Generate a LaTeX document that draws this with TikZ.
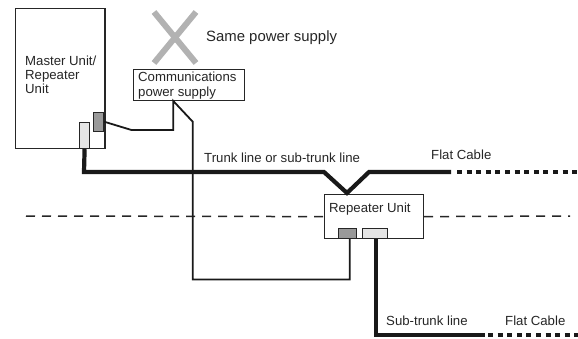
\documentclass[tikz,border=0pt]{standalone}
\usepackage{fontspec}
\setmainfont{Liberation Sans}
\tikzset{
  unitbox/.style={draw=black!85,line width=1.2pt,fill=white,inner sep=0pt,anchor=north west},
  label/.style={inner sep=0pt,anchor=west,text=black!85,font=\fontsize{13.2}{14.2}\selectfont,align=left},
  thin wire/.style={line width=1.8pt,black!90,line join=miter},
  thick wire/.style={line width=4.2pt,black!90,line join=miter},
  flat dots/.style={line width=4.2pt,black!90,dash pattern=on 5pt off 4.6pt},
  divider/.style={line width=1.5pt,black!85,dash pattern=on 9pt off 7pt},
  port dark/.style={draw=black!85,line width=1.2pt,fill=black!40,inner sep=0pt,anchor=north west},
  port light/.style={draw=black!85,line width=1.2pt,fill=black!10,inner sep=0pt,anchor=north west}
}
\begin{document}
\begin{tikzpicture}[x=1pt,y=-1pt]
\useasboundingbox (0,0) rectangle (578,338);
% divider
\coordinate (dl) at (26,216);
\coordinate (dr) at (570,216);
% units
\node[unitbox,minimum width=89.5pt,minimum height=140pt] (master) at (14.8,8) {};
\node[label] (masterlabel) at (25,74.5) {Master Unit/\\Repeater\\Unit};
\node[unitbox,minimum width=111pt,minimum height=31pt] (psu) at (133,69) {};
\node[label] (psulabel) at (138,85.5) {Communications\\power supply};
\node[unitbox,minimum width=99pt,minimum height=44pt] (rep) at (324,194) {};
\node[label] (replabel) at (329,209.5) {Repeater Unit};
% ports
\node[port light,minimum width=10pt,minimum height=26pt] (mlight) at (79,122) {};
\node[port dark,minimum width=10pt,minimum height=19pt] (mdark) at (93,112) {};
\node[port dark,minimum width=18pt,minimum height=10pt] (rdark) at (338,228) {};
\node[port light,minimum width=25pt,minimum height=10pt] (rlight) at (362,228) {};
% divider
\draw[divider] (dl) -- (rep.west);
\draw[divider] (rep.east) -- (dr);
% cross
\coordinate (xa) at (154,12);
\coordinate (xb) at (196,63);
\coordinate (xc) at (196,12);
\coordinate (xd) at (154,63);
\draw[line width=6pt,black!30] (xa) -- (xb);
\draw[line width=6pt,black!30] (xc) -- (xd);
% wires
\coordinate (w1) at (131.5,130);
\coordinate (w2) at (173.3,130);
\coordinate (w3) at (173.3,101);
\coordinate (w4) at (192.7,121.7);
\coordinate (w5) at (192.7,279.5);
\coordinate (w6) at (349.7,279.5);
\draw[thin wire] (mdark.east |- 0,121.7) -- (w1) -- (w2) -- (w3) -- (w4) -- (w5) -- (w6) -- (rdark.south -| w6);
% trunk
\coordinate (t1) at (84,172);
\coordinate (t2) at (324,172);
\coordinate (t3) at (347,193);
\coordinate (t4) at (369,172);
\coordinate (t5) at (451,172);
\coordinate (t6) at (457,172);
\coordinate (t7) at (578,172);
\draw[thick wire] (mlight.south) -- (t1) -- (t2) -- (t3) -- (t4) -- (t5);
\draw[flat dots] (t6) -- (t7);
% sub-trunk
\coordinate (s1) at (376,335);
\coordinate (s2) at (485,335);
\coordinate (s3) at (488,335);
\coordinate (s4) at (578,335);
\draw[thick wire] (rlight.south -| s1) -- (s1) -- (s2);
\draw[flat dots] (s3) -- (s4);
% labels
\node[label,font=\fontsize{14.9}{16}\selectfont] (same) at (206,38) {Same power supply};
\node[label] (trunk) at (204,157.5) {Trunk line or sub-trunk line};
\node[label] (flat1) at (431,155) {Flat Cable};
\node[label] (sub) at (386,321) {Sub-trunk line};
\node[label] (flat2) at (505,321) {Flat Cable};
\end{tikzpicture}
\end{document}
